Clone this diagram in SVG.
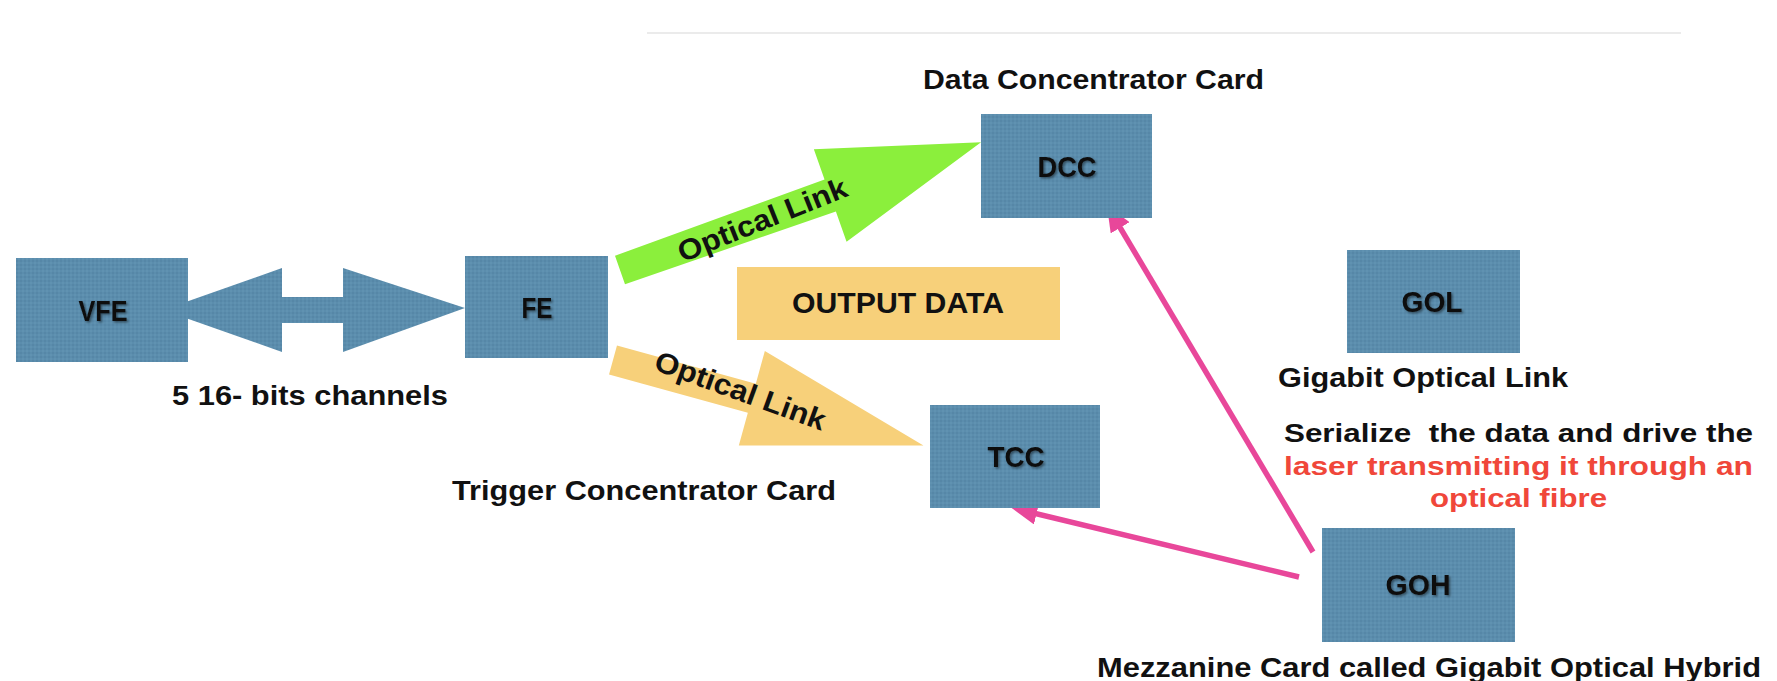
<svg xmlns="http://www.w3.org/2000/svg" width="1777" height="681" viewBox="0 0 1777 681">
<style>
.box{fill:url(#tex);}
.bt{font-family:"Liberation Sans",Arial,sans-serif;font-weight:bold;font-size:30px;fill:#111;text-anchor:middle;}
.lb{font-family:"Liberation Sans",Arial,sans-serif;font-weight:bold;font-size:28px;fill:#111;}
.ds{font-family:"Liberation Sans",Arial,sans-serif;font-weight:bold;font-size:26px;fill:#111;white-space:pre;}
.red{fill:#f0473a;}
.ol{font-family:"Liberation Sans",Arial,sans-serif;font-weight:bold;font-size:29px;fill:#111;text-anchor:middle;}
.pk{stroke:#e8479a;stroke-width:5.5;fill:none;}
</style>
<defs>
<pattern id="tex" patternUnits="userSpaceOnUse" width="4" height="4">
<rect width="4" height="4" fill="#5b8dad"/>
<circle cx="1" cy="1" r="0.8" fill="#4f809f"/>
<circle cx="3" cy="3" r="0.8" fill="#6698b6"/>
</pattern>
<marker id="ph" markerUnits="userSpaceOnUse" markerWidth="26" markerHeight="22" refX="16" refY="11" orient="auto">
<path d="M0,0 L26,11 L0,22 z" fill="#e8479a"/>
</marker>
<filter id="sh" x="-20%" y="-30%" width="140%" height="160%">
<feDropShadow dx="1.5" dy="1.5" stdDeviation="1" flood-color="#000" flood-opacity="0.45"/>
</filter>
</defs>
<rect width="1777" height="681" fill="#fff"/>
<line x1="647" y1="33" x2="1681" y2="33" stroke="#ebebeb" stroke-width="2"/>

<g id="connectors">
<polygon id="vfe-fe" fill="url(#tex)" points="163,310 282,268 282,297 343,297 343,268 465,308 343,352 343,323 282,323 282,352"/>
<g id="fe-dcc">
<polygon fill="#8bef3c" transform="translate(620,270) rotate(-19.5)" points="0,-15 223,-17 223,-49 383,0 223,49 223,17 0,15"/>
<text class="ol" transform="translate(766,229) rotate(-21.8)" textLength="180" lengthAdjust="spacingAndGlyphs">Optical Link</text>
</g>
<g id="fe-tcc">
<polygon fill="#f7d07a" transform="translate(613,360) rotate(15.4)" points="0,-15 144,-15 144,-49 322,0 144,49 144,15 0,15"/>
<text class="ol" transform="translate(737,400) rotate(20)" textLength="180" lengthAdjust="spacingAndGlyphs">Optical Link</text>
</g>
<line id="goh-tcc" class="pk" x1="1299" y1="577" x2="1021" y2="510" marker-end="url(#ph)"/>
<line id="goh-dcc" class="pk" x1="1313" y1="552" x2="1112" y2="214" marker-end="url(#ph)"/>
</g>

<g id="vfe">
<rect class="box" x="16" y="258" width="172" height="104"/>
<text class="bt" x="103" y="321" textLength="49" lengthAdjust="spacingAndGlyphs" filter="url(#sh)">VFE</text>
</g>
<text id="channels" class="lb" x="172" y="405" textLength="276" lengthAdjust="spacingAndGlyphs">5 16- bits channels</text>

<g id="fe">
<rect class="box" x="465" y="256" width="143" height="102"/>
<text class="bt" x="537" y="318" textLength="31" lengthAdjust="spacingAndGlyphs" filter="url(#sh)">FE</text>
</g>

<g id="dcc">
<text class="lb" x="923" y="89" textLength="341" lengthAdjust="spacingAndGlyphs">Data Concentrator Card</text>
<rect class="box" x="981" y="114" width="171" height="104"/>
<text class="bt" x="1067" y="177" textLength="59" lengthAdjust="spacingAndGlyphs" filter="url(#sh)">DCC</text>
</g>

<g id="output">
<rect x="737" y="267" width="323" height="73" fill="#f7d07a"/>
<text class="bt" x="898" y="313" textLength="212" lengthAdjust="spacingAndGlyphs">OUTPUT DATA</text>
</g>

<g id="tcc">
<rect class="box" x="930" y="405" width="170" height="103"/>
<text class="bt" x="1016" y="467" textLength="57" lengthAdjust="spacingAndGlyphs" filter="url(#sh)">TCC</text>
<text class="lb" x="452" y="500" textLength="384" lengthAdjust="spacingAndGlyphs">Trigger Concentrator Card</text>
</g>

<g id="gol">
<rect class="box" x="1347" y="250" width="173" height="103"/>
<text class="bt" x="1432" y="312" textLength="61" lengthAdjust="spacingAndGlyphs" filter="url(#sh)">GOL</text>
<text class="lb" x="1278" y="387" textLength="290" lengthAdjust="spacingAndGlyphs">Gigabit Optical Link</text>
</g>

<g id="desc">
<text class="ds" x="1284" y="442" textLength="469" lengthAdjust="spacingAndGlyphs">Serialize  the data and drive the</text>
<text class="ds red" x="1284" y="475" textLength="469" lengthAdjust="spacingAndGlyphs">laser transmitting it through an</text>
<text class="ds red" x="1430" y="507" textLength="177" lengthAdjust="spacingAndGlyphs">optical fibre</text>
</g>

<g id="goh">
<rect class="box" x="1322" y="528" width="193" height="114"/>
<text class="bt" x="1418" y="595" textLength="65" lengthAdjust="spacingAndGlyphs" filter="url(#sh)">GOH</text>
<text class="lb" x="1097" y="677" textLength="664" lengthAdjust="spacingAndGlyphs">Mezzanine Card called Gigabit Optical Hybrid</text>
</g>
</svg>
